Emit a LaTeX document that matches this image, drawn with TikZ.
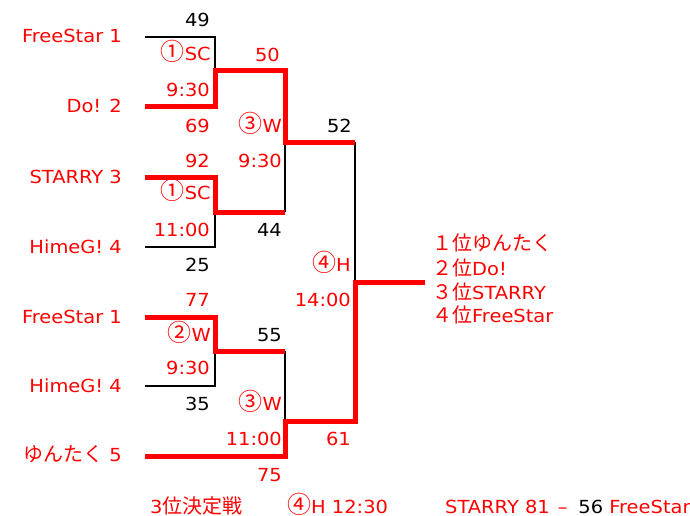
\documentclass[tikz,border=0pt]{standalone}
\usepackage{fontspec}
\setmainfont{DejaVu Sans}[FakeStretch=1.08]
\newfontfamily\jpfont{Noto Sans CJK JP}
\newcommand{\J}[1]{{\jpfont\fontsize{20}{20}\selectfont #1}}
\newcommand{\C}[1]{{\jpfont\fontsize{24}{24}\selectfont #1}}
\begin{document}
\begin{tikzpicture}[x=1pt,y=-1pt,
  lbl/.style={inner sep=0pt, font=\fontsize{18}{18}\selectfont},
  rl/.style={lbl, text=red},
  bl/.style={lbl, text=black},
  thinline/.style={line width=1.8pt, black},
  win/.style={line width=5pt, red, line join=miter},
]
\fill[white] (0,0) rectangle (690,516);
\useasboundingbox (0,0) rectangle (690,516);

% coordinates
\coordinate (t1) at (145,37);  \coordinate (c1) at (215,37);
\coordinate (t2) at (145,107); \coordinate (c2) at (215,107);
\coordinate (jA) at (215,71);  \coordinate (oA) at (285,71);
\coordinate (t3) at (145,177); \coordinate (c3) at (215,177);
\coordinate (t4) at (145,247); \coordinate (c4) at (215,247);
\coordinate (jB) at (215,212); \coordinate (oB) at (285,212);
\coordinate (jC) at (285,142); \coordinate (oC) at (355,142);
\coordinate (t5) at (145,317); \coordinate (c5) at (215,317);
\coordinate (t6) at (145,386); \coordinate (c6) at (215,386);
\coordinate (jD) at (215,351); \coordinate (oD) at (285,351);
\coordinate (t7) at (145,456); \coordinate (c7) at (285,456);
\coordinate (jE) at (285,421); \coordinate (oE) at (355,421);
\coordinate (jF) at (355,282); \coordinate (w)  at (425,282);

% losing (black) lines
\draw[thinline] (t1) -- (c1) -- (jA);
\draw[thinline] (t4) -- (c4) -- (jB);
\draw[thinline] (jC) -- (oB);
\draw[thinline] (oC) -- (jF);
\draw[thinline] (t6) -- (c6) -- (jD);
\draw[thinline] (oD) -- (jE);

% winning (red) lines
\draw[win] (t2) -- (c2) -- (jA) -- (oA) -- (jC) -- (oC);
\draw[win] (t3) -- (c3) -- (jB) -- (oB);
\draw[win] (t5) -- (c5) -- (jD) -- (oD);
\draw[win] (t7) -- (c7) -- (jE) -- (oE) -- (jF) -- (w);

% team names
\node[rl, anchor=base east] (n1) at (122,42.5) {FreeStar 1};
\node[rl, anchor=base east] (n2) at (122,113) {Do! 2};
\node[rl, anchor=base east] (n3) at (122,183) {STARRY 3};
\node[rl, anchor=base east] (n4) at (122,253) {HimeG! 4};
\node[rl, anchor=base east] (n5) at (122,323) {FreeStar 1};
\node[rl, anchor=base east] (n6) at (122,392) {HimeG! 4};
\node[rl, anchor=base east] (n7) at (122,461) {\J{ゆんたく} 5};

% first round column
\node[bl, anchor=base east] (s49) at (210,27) {49};
\node[rl, anchor=base east] (m1) at (211,61) {\C{①}SC};
\node[rl, anchor=base east] (h1) at (210,97) {9:30};
\node[rl, anchor=base east] (s69) at (210,132) {69};
\node[rl, anchor=base east] (s92) at (210,167) {92};
\node[rl, anchor=base east] (m2) at (211,199) {\C{①}SC};
\node[rl, anchor=base east] (h2) at (210,236) {11:00};
\node[bl, anchor=base east] (s25) at (210,271) {25};
\node[rl, anchor=base east] (s77) at (210,306) {77};
\node[rl, anchor=base east] (m3) at (211,341) {\C{②}W};
\node[rl, anchor=base east] (h3) at (210,374) {9:30};
\node[bl, anchor=base east] (s35) at (210,410) {35};

% second round column
\node[rl, anchor=base east] (s50) at (280,62) {50};
\node[rl, anchor=base east] (m4) at (282,132) {\C{③}W};
\node[rl, anchor=base east] (h4) at (282,167) {9:30};
\node[bl, anchor=base east] (s44) at (282,236) {44};
\node[bl, anchor=base east] (s55) at (282,341) {55};
\node[rl, anchor=base east] (m5) at (282,410) {\C{③}W};
\node[rl, anchor=base east] (h5) at (282,445) {11:00};
\node[rl, anchor=base east] (s75) at (282,481) {75};

% final column
\node[bl, anchor=base east] (s52) at (352,132) {52};
\node[rl, anchor=base east] (m6) at (351,271) {\C{④}H};
\node[rl, anchor=base east] (h6) at (351,306) {14:00};
\node[rl, anchor=base east] (s61) at (351,445) {61};

% ranking
\node[rl, anchor=base west] (r1) at (432,250) {\J{１位ゆんたく}};
\node[rl, anchor=base west] (r2) at (432,275) {\J{２位}Do!};
\node[rl, anchor=base west] (r3) at (432,299) {\J{３位}STARRY};
\node[rl, anchor=base west] (r4) at (432,322) {\J{４位}FreeStar};

% third place match
\node[rl, anchor=base west] (b1) at (150,513) {3\J{位決定戦}};
\node[rl, anchor=base west] (b2) at (287,513) {\C{④}H 12:30};
\node[rl, anchor=base west] (b3) at (445,513) {STARRY 81\hspace{8pt}–\hspace{11pt}\textcolor{black}{56} FreeStar};
\end{tikzpicture}
\end{document}
